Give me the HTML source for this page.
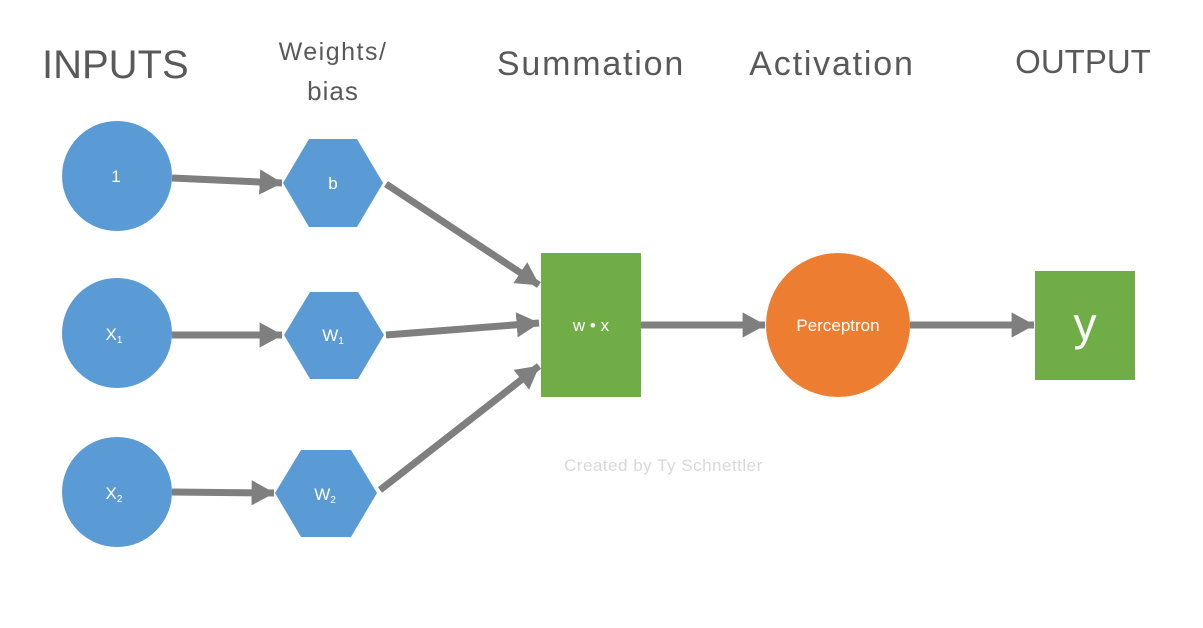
<!DOCTYPE html>
<html><head><meta charset="utf-8"><style>
html,body{margin:0;padding:0;background:#fff;}
svg{display:block;}
text{font-family:"Liberation Sans",sans-serif;}
</style></head><body>
<svg width="1203" height="628" viewBox="0 0 1203 628" xmlns="http://www.w3.org/2000/svg">
<defs>
<marker id="ah" markerWidth="4" markerHeight="4" refX="3.2" refY="2" orient="auto" markerUnits="strokeWidth">
<path d="M0,0.2 L3.3,2 L0,3.8 Z" fill="#7f7f7f"/>
</marker>
</defs>
<rect width="1203" height="628" fill="#fff"/>
<g fill="#595959">
<text x="42" y="78" font-size="40">INPUTS</text>
<text x="333" y="60" font-size="25" text-anchor="middle" letter-spacing="1.5">Weights/</text>
<text x="333" y="100" font-size="26" text-anchor="middle" letter-spacing="1">bias</text>
<text x="591" y="75" font-size="34" text-anchor="middle" letter-spacing="1.8">Summation</text>
<text x="832" y="75" font-size="34" text-anchor="middle" letter-spacing="1.8">Activation</text>
<text x="1083" y="73" font-size="33" text-anchor="middle">OUTPUT</text>
</g>
<g stroke="#7f7f7f" stroke-width="7" fill="none" marker-end="url(#ah)">
<line x1="172" y1="178" x2="282" y2="183"/>
<line x1="172" y1="335" x2="282" y2="335"/>
<line x1="172" y1="492" x2="274" y2="493"/>
<line x1="386" y1="184" x2="539" y2="285"/>
<line x1="386" y1="335" x2="539" y2="323"/>
<line x1="380" y1="490" x2="539" y2="366"/>
<line x1="641" y1="325" x2="765" y2="325"/>
<line x1="910" y1="325" x2="1034" y2="325"/>
</g>
<g fill="#5b9bd5">
<circle cx="117" cy="176" r="55"/>
<circle cx="117" cy="333" r="55"/>
<circle cx="117" cy="492" r="55"/>
<polygon points="283,183 309,139 357,139 383,183 357,227 309,227"/>
<polygon points="284,335 310,292 358,292 384,335 358,379 310,379"/>
<polygon points="275,493 301,450 351,450 377,493 351,537 301,537"/>
</g>
<g fill="#fff" font-size="17" text-anchor="middle">
<text x="116" y="182">1</text>
<text x="333" y="189">b</text>
<text x="114" y="340">X<tspan font-size="10" dy="3">1</tspan></text>
<text x="333" y="341">W<tspan font-size="10" dy="3">1</tspan></text>
<text x="114" y="499">X<tspan font-size="10" dy="3">2</tspan></text>
<text x="325" y="500">W<tspan font-size="10" dy="3">2</tspan></text>
</g>
<rect x="541" y="253" width="100" height="144" fill="#70ad47"/>
<ellipse cx="838" cy="325" rx="72" ry="72" fill="#ed7d31"/>
<rect x="1035" y="271" width="100" height="109" fill="#70ad47"/>
<text x="591" y="331" fill="#fff" font-size="17" text-anchor="middle">w • x</text>
<text x="838" y="331" fill="#fff" font-size="17" text-anchor="middle">Perceptron</text>
<text x="1085" y="340" fill="#fff" font-size="46" text-anchor="middle">y</text>
<text x="564" y="471" fill="#d9d9d9" font-size="17" letter-spacing="0.5">Created by Ty Schnettler</text>
</svg>
</body></html>
